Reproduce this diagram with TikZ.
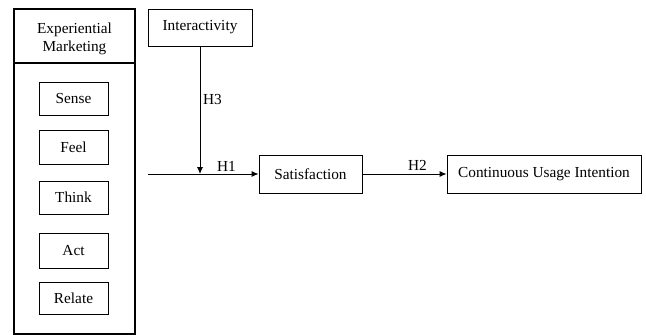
\documentclass[tikz,border=0pt]{standalone}
\usepackage{fontspec}
\setmainfont{Liberation Serif}
\usetikzlibrary{arrows.meta}
\begin{document}
\begin{tikzpicture}[x=1pt,y=-1pt,
  box/.style={draw, line width=0.9pt, inner sep=0pt, align=center, font=\fontsize{15.3}{18}\selectfont},
  outer/.style={draw, line width=1.1pt, inner sep=0pt, align=center, font=\fontsize{15.3}{18}\selectfont},
  conn/.style={line width=0.9pt, -{Latex[length=7pt,width=6pt]}},
  lbl/.style={inner sep=0pt, anchor=west, font=\fontsize{15.3}{18}\selectfont}]
\useasboundingbox (0,0) rectangle (646,335);
% Experiential Marketing container
\node[outer, minimum width=121pt, minimum height=54pt] (head) at (74.5,36) {};
\node[inner sep=0pt, align=center, font=\fontsize{15.3}{17.5}\selectfont] (headtxt) at (74.5,39) {Experiential\\Marketing};
\node[outer, minimum width=121pt, minimum height=271pt] (body) at (74.5,198.5) {};
% inner dimensions
\node[box, minimum width=69pt, minimum height=33pt] (sense) at (73.5,98.5) {Sense};
\node[box, minimum width=69pt, minimum height=34pt] (feel) at (73.5,147) {Feel};
\node[box, minimum width=69pt, minimum height=33pt] (think) at (73.5,197.5) {Think};
\node[box, minimum width=69pt, minimum height=35pt] (act) at (73.5,250.5) {Act};
\node[box, minimum width=69pt, minimum height=32pt] (relate) at (73.5,298) {Relate};
% other constructs
\node[box, minimum width=104pt, minimum height=37pt] (inter) at (200,27.5) {Interactivity};
\node[box, minimum width=103pt, minimum height=38pt] (sat) at (310.5,174) {Satisfaction};
\node[box, minimum width=194pt, minimum height=38pt] (cui) at (544,174) {Continuous Usage Intention};
% connectors
\coordinate (start) at (148,174);
\coordinate (junc) at (inter.south |- sat.west);
\draw[conn] (start) -- (sat.west);
\draw[conn] (inter.south) -- (junc);
\draw[conn] (sat.east) -- (cui.west);
% labels
\node[lbl] (h3) at (203,100) {H3};
\node[lbl] (h1) at (217,166) {H1};
\node[lbl] (h2) at (408,165) {H2};
\end{tikzpicture}
\end{document}
